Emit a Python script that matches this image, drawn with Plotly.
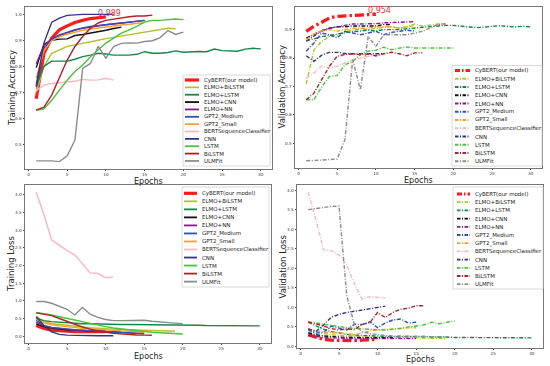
import plotly.graph_objects as go

W, H = 550, 366

model_names = ["CyBERT(our model)", "ELMO+BiLSTM", "ELMO+LSTM", "ELMO+CNN", "ELMO+NN",
               "GPT2_Medium", "GPT2_Small", "BERTSequenceClassifier", "CNN", "LSTM",
               "BiLSTM", "ULMFit"]
model_colors = ["#ff1a1a", "#b5c22a", "#13884a", "#111111", "#8a1a8a",
                "#2f4fc0", "#ff9f2a", "#ffb6c1", "#33338a", "#45c53a",
                "#b3202a", "#8c8c8c"]

# ---- Training accuracy ----
ta_cybert = [0.676, 0.85, 0.908, 0.94, 0.955, 0.968, 0.976, 0.983, 0.986, 0.989]
ta_elmo_bilstm = [0.70, 0.80, 0.85, 0.863, 0.876, 0.882, 0.889, 0.895, 0.90, 0.906, 0.911, 0.916, 0.922, 0.926, 0.931, 0.935, 0.942, 0.946, 0.944]
ta_elmo_lstm = [0.725, 0.80, 0.82, 0.82, 0.82, 0.827, 0.837, 0.843, 0.85, 0.847, 0.843, 0.843, 0.843, 0.846, 0.856, 0.85, 0.85, 0.853, 0.859, 0.854, 0.856, 0.857, 0.856, 0.866, 0.86, 0.858, 0.858, 0.866, 0.869, 0.867]
ta_elmo_cnn = [0.795, 0.885, 0.90, 0.904, 0.905, 0.918, 0.922, 0.927, 0.933, 0.938, 0.945, 0.95]
ta_elmo_nn = [0.81, 0.88, 0.905, 0.92, 0.93, 0.94, 0.946, 0.951, 0.955, 0.959, 0.962, 0.965, 0.968, 0.972, 0.976]
ta_gpt2_medium = [0.72, 0.87, 0.903, 0.918, 0.928, 0.938, 0.947, 0.953, 0.957, 0.96, 0.963, 0.966, 0.969, 0.973, 0.976]
ta_gpt2_small = [0.755, 0.86, 0.898, 0.913, 0.923, 0.932, 0.938, 0.943, 0.947, 0.952, 0.955, 0.958, 0.961, 0.964, 0.968]
ta_bert = [0.708, 0.728, 0.734, 0.737, 0.741, 0.743, 0.75, 0.747, 0.748, 0.754, 0.747]
ta_cnn = [0.728, 0.89, 0.969, 0.985, 0.995, 0.998, 0.999, 0.999, 0.999, 0.999, 0.999]
ta_lstm = [0.632, 0.637, 0.67, 0.71, 0.747, 0.78, 0.805, 0.837, 0.863, 0.889, 0.908, 0.927, 0.94, 0.953, 0.97, 0.976, 0.976, 0.979, 0.981, 0.979]
ta_bilstm = [0.632, 0.644, 0.69, 0.76, 0.824, 0.876, 0.914, 0.946, 0.966, 0.976, 0.981, 0.985, 0.99, 0.993, 0.993, 0.996]
ta_ulmfit = [0.438, 0.438, 0.438, 0.435, 0.457, 0.518, 0.792, 0.811, 0.876, 0.831, 0.876, 0.888, 0.89, 0.889, 0.895, 0.898, 0.91, 0.937, 0.922, 0.931]

# ---- Validation accuracy ----
va_cybert = [0.894, 0.912, 0.926, 0.941, 0.947, 0.949, 0.951, 0.952, 0.953, 0.954]
va_elmo_bilstm = [0.709, 0.829, 0.859, 0.875, 0.88, 0.893, 0.898, 0.903, 0.90, 0.905, 0.908, 0.91, 0.905, 0.91, 0.92, 0.912, 0.916, 0.92, 0.92]
va_elmo_lstm = [0.86, 0.868, 0.875, 0.88, 0.885, 0.89, 0.893, 0.895, 0.898, 0.895, 0.9, 0.9, 0.9, 0.903, 0.906, 0.908, 0.91, 0.913, 0.915, 0.915, 0.912, 0.91, 0.907, 0.909, 0.911, 0.914, 0.911, 0.91, 0.912, 0.91]
va_elmo_cnn = [0.87, 0.882, 0.896, 0.905, 0.91, 0.91, 0.913, 0.913, 0.913, 0.913, 0.918, 0.918]
va_elmo_nn = [0.86, 0.876, 0.895, 0.905, 0.91, 0.914, 0.92, 0.92, 0.92, 0.921, 0.924, 0.925, 0.925, 0.927, 0.928]
va_gpt2_medium = [0.824, 0.853, 0.888, 0.882, 0.871, 0.894, 0.888, 0.882, 0.888, 0.894, 0.882, 0.89, 0.894, 0.898, 0.895]
va_gpt2_small = [0.865, 0.885, 0.895, 0.9, 0.895, 0.9, 0.905, 0.905, 0.905, 0.91, 0.91, 0.91, 0.905, 0.91, 0.915]
va_bert = [0.729, 0.747, 0.771, 0.765, 0.771, 0.782, 0.794, 0.8, 0.806, 0.806, 0.812]
va_cnn = [0.808, 0.788, 0.81, 0.82, 0.82, 0.816, 0.815, 0.815, 0.815, 0.815, 0.815]
va_lstm = [0.653, 0.653, 0.698, 0.735, 0.738, 0.776, 0.788, 0.812, 0.824, 0.827, 0.838, 0.829, 0.835, 0.839, 0.835, 0.835, 0.837, 0.835, 0.835, 0.835]
va_bilstm = [0.653, 0.676, 0.724, 0.771, 0.806, 0.812, 0.814, 0.812, 0.814, 0.808, 0.815, 0.82, 0.815, 0.808, 0.818, 0.818]
va_ulmfit = [0.438, 0.438, 0.44, 0.442, 0.444, 0.512, 0.794, 0.688, 0.876, 0.841, 0.882, 0.882, 0.882, 0.882, 0.888, 0.894, 0.906, 0.918, 0.921]

# ---- Training loss ----
tl_cybert = [0.3, 0.22, 0.17, 0.15, 0.14, 0.13, 0.13, 0.13, 0.13, 0.13]
tl_elmo_bilstm = [0.56, 0.42, 0.36, 0.33, 0.3, 0.28, 0.26, 0.24, 0.22, 0.21, 0.2, 0.19, 0.18, 0.17, 0.16, 0.155, 0.15, 0.145, 0.14]
tl_elmo_lstm = [0.5, 0.44, 0.41, 0.39, 0.37, 0.36, 0.35, 0.35, 0.34, 0.34, 0.34, 0.33, 0.33, 0.33, 0.32, 0.32, 0.32, 0.32, 0.31, 0.31, 0.31, 0.31, 0.3, 0.3, 0.3, 0.3, 0.3, 0.29, 0.29, 0.29]
tl_elmo_cnn = [0.35, 0.27, 0.23, 0.2, 0.18, 0.17, 0.16, 0.15, 0.14, 0.13, 0.12, 0.11]
tl_elmo_nn = [0.4, 0.3, 0.24, 0.21, 0.19, 0.17, 0.16, 0.15, 0.13, 0.12, 0.11, 0.1, 0.09, 0.08, 0.07]
tl_gpt2_medium = [0.45, 0.3, 0.25, 0.22, 0.2, 0.18, 0.17, 0.15, 0.14, 0.13, 0.12, 0.11, 0.1, 0.09, 0.08]
tl_gpt2_small = [0.48, 0.38, 0.32, 0.29, 0.26, 0.24, 0.22, 0.21, 0.19, 0.18, 0.16, 0.15, 0.14, 0.12, 0.11]
tl_bert = [4.07, 3.44, 2.72, 2.56, 2.42, 2.3, 2.05, 1.79, 1.77, 1.65, 1.67]
tl_cnn = [0.55, 0.3, 0.12, 0.05, 0.03, 0.02, 0.015, 0.01, 0.01, 0.01, 0.01]
tl_lstm = [0.67, 0.64, 0.6, 0.55, 0.5, 0.45, 0.4, 0.35, 0.31, 0.27, 0.23, 0.2, 0.17, 0.15, 0.13, 0.11, 0.1, 0.08, 0.07, 0.06]
tl_bilstm = [0.66, 0.63, 0.58, 0.5, 0.42, 0.33, 0.26, 0.2, 0.15, 0.11, 0.08, 0.06, 0.045, 0.035, 0.03, 0.025]
tl_ulmfit = [0.98, 0.98, 0.93, 0.84, 0.76, 0.6, 0.81, 0.62, 0.53, 0.47, 0.44, 0.44, 0.45, 0.45, 0.45, 0.42, 0.41, 0.39, 0.37, 0.35]

# ---- Validation loss ----
vl_cybert = [0.3, 0.23, 0.18, 0.16, 0.15, 0.15, 0.15, 0.16, 0.17, 0.18]
vl_elmo_bilstm = [0.45, 0.38, 0.33, 0.3, 0.28, 0.27, 0.26, 0.25, 0.24, 0.24, 0.23, 0.23, 0.22, 0.22, 0.22, 0.21, 0.21, 0.21, 0.2]
vl_elmo_lstm = [0.62, 0.52, 0.44, 0.38, 0.34, 0.31, 0.29, 0.28, 0.27, 0.26, 0.26, 0.25, 0.25, 0.25, 0.24, 0.24, 0.24, 0.24, 0.24, 0.23, 0.23, 0.23, 0.23, 0.23, 0.23, 0.23, 0.23, 0.22, 0.22, 0.22]
vl_elmo_cnn = [0.35, 0.3, 0.27, 0.25, 0.24, 0.23, 0.23, 0.22, 0.22, 0.22, 0.22, 0.22]
vl_elmo_nn = [0.28, 0.25, 0.23, 0.22, 0.21, 0.21, 0.2, 0.2, 0.2, 0.2, 0.2, 0.2, 0.2, 0.2, 0.2]
vl_gpt2_medium = [0.42, 0.34, 0.36, 0.52, 0.47, 0.42, 0.57, 0.56, 0.63, 0.48, 0.6, 0.68, 0.7, 0.6, 0.62]
vl_gpt2_small = [0.45, 0.4, 0.37, 0.35, 0.35, 0.32, 0.3, 0.35, 0.4, 0.42, 0.43, 0.45, 0.47, 0.48, 0.48]
vl_bert = [3.94, 3.25, 2.47, 2.45, 2.34, 2.08, 1.6, 1.21, 1.27, 1.26, 1.24]
vl_cnn = [0.45, 0.38, 0.55, 0.75, 0.82, 0.87, 0.9, 0.93, 0.97, 1.01, 1.03]
vl_lstm = [0.63, 0.6, 0.57, 0.53, 0.5, 0.48, 0.46, 0.45, 0.44, 0.43, 0.42, 0.44, 0.46, 0.5, 0.52, 0.55, 0.62, 0.58, 0.62, 0.65]
vl_bilstm = [0.62, 0.58, 0.52, 0.46, 0.42, 0.45, 0.43, 0.56, 0.61, 0.87, 0.74, 0.87, 0.95, 0.98, 1.04, 1.04]
vl_ulmfit = [3.5, 3.53, 3.56, 3.58, 3.59, 1.3, 0.55, 0.38, 0.33, 0.3, 0.28, 0.27, 0.27, 0.27, 0.26, 0.26, 0.25, 0.25, 0.24]

x_ticks = [0, 5, 10, 15, 20, 25, 30]
x_title = "Epochs"
best_train_acc_label = "0.989"
best_val_acc_label = "0.954"

panels = [
    dict(series=[ta_cybert, ta_elmo_bilstm, ta_elmo_lstm, ta_elmo_cnn, ta_elmo_nn, ta_gpt2_medium,
                 ta_gpt2_small, ta_bert, ta_cnn, ta_lstm, ta_bilstm, ta_ulmfit],
         title="Training Accuracy", dtick=0.1, dash=False,
         box=(25, 272, 7, 169), ytitle_x=12, xtitle_y=181.5,
         leg=(183, 270, 75, 166, 80, 7.36, 185, 199, 201.5)),
    dict(series=[va_cybert, va_elmo_bilstm, va_elmo_lstm, va_elmo_cnn, va_elmo_nn, va_gpt2_medium,
                 va_gpt2_small, va_bert, va_cnn, va_lstm, va_bilstm, va_ulmfit],
         title="Validation Accuracy", dtick=0.1, dash=True,
         box=(295, 542, 7, 168), ytitle_x=281, xtitle_y=180.5,
         leg=(452, 542, 65.5, 166, 70.5, 8.25, 455, 470, 473)),
    dict(series=[tl_cybert, tl_elmo_bilstm, tl_elmo_lstm, tl_elmo_cnn, tl_elmo_nn, tl_gpt2_medium,
                 tl_gpt2_small, tl_bert, tl_cnn, tl_lstm, tl_bilstm, tl_ulmfit],
         title="Training Loss", dtick=0.5, dash=False,
         box=(25, 271, 185, 343), ytitle_x=11, xtitle_y=356.5,
         leg=(182, 269, 187, 287, 193.3, 8.03, 184, 197, 200)),
    dict(series=[vl_cybert, vl_elmo_bilstm, vl_elmo_lstm, vl_elmo_cnn, vl_elmo_nn, vl_gpt2_medium,
                 vl_gpt2_small, vl_bert, vl_cnn, vl_lstm, vl_bilstm, vl_ulmfit],
         title="Validation Loss", dtick=0.5, dash=True,
         box=(297, 543, 185, 348), ytitle_x=282, xtitle_y=359.5,
         leg=(453, 543, 187, 289, 194, 8.2, 457, 470, 472.5)),
]

FONT = "DejaVu Sans"
fig = go.Figure()
shapes = []
annotations = []

def px(x):
    return x / W

def py(y):
    return 1 - y / H

for i, p in enumerate(panels):
    k = "" if i == 0 else str(i + 1)
    xa, ya = "x" + k, "y" + k
    allv = [v for s in p["series"] for v in s]
    lo, hi = min(allv), max(allv)
    span = hi - lo
    for j, s in enumerate(p["series"]):
        thick = j == 0
        if p["dash"]:
            dash = "9px,3px,2.5px,3px" if thick else "4px,1.6px,1px,1.6px"
        else:
            dash = "solid"
        fig.add_trace(go.Scatter(
            x=list(range(1, len(s) + 1)), y=s, mode="lines",
            line=dict(color=model_colors[j], width=3.2 if thick else 1.4, dash=dash),
            name=model_names[j], showlegend=False, xaxis=xa, yaxis=ya))
    l, r, t, b = p["box"]
    fig.layout["xaxis" + k] = dict(
        domain=[px(l), px(r)], anchor=ya, range=[-0.45, 31.45],
        tickvals=x_ticks, ticks="outside", ticklen=1.5, tickwidth=0.6, tickcolor="#444",
        tickfont=dict(size=4.2, color="#333", family=FONT),
        showline=True, mirror=True, linecolor="#777", linewidth=0.9,
        showgrid=False, zeroline=False)
    fig.layout["yaxis" + k] = dict(
        domain=[py(b), py(t)], anchor=xa, range=[lo - 0.05 * span, hi + 0.05 * span],
        dtick=p["dtick"], tickformat=".1f", ticks="outside", ticklen=1.5, tickwidth=0.6,
        tickcolor="#444", tickfont=dict(size=4.2, color="#333", family=FONT),
        showline=True, mirror=True, linecolor="#777", linewidth=0.9,
        showgrid=False, zeroline=False)

    # axis titles
    annotations.append(dict(text=x_title, xref="paper", yref="paper",
                            x=px((l + r) / 2), y=py(p["xtitle_y"]),
                            xanchor="center", yanchor="middle", showarrow=False, borderpad=0,
                            font=dict(size=8, color="#222", family=FONT)))
    annotations.append(dict(text=p["title"], xref="paper", yref="paper",
                            x=px(p["ytitle_x"]), y=py((t + b) / 2), textangle=-90,
                            xanchor="center", yanchor="middle", showarrow=False, borderpad=0,
                            font=dict(size=8.5, color="#222", family=FONT)))

    # legend (drawn as decoration)
    bl, br, bt, bb, y0, dy, hx0, hx1, tx = p["leg"]
    shapes.append(dict(type="rect", xref="paper", yref="paper",
                       x0=px(bl), x1=px(br), y0=py(bb), y1=py(bt),
                       line=dict(color="#d0d0d0", width=0.8), fillcolor="rgba(255,255,255,0.85)",
                       layer="above"))
    for j, name in enumerate(model_names):
        yy = y0 + j * dy
        if p["dash"]:
            hd = "5px,2px,1.5px,2px" if j == 0 else "3.5px,1.5px,1px,1.5px"
        else:
            hd = "solid"
        shapes.append(dict(type="line", xref="paper", yref="paper",
                           x0=px(hx0), x1=px(hx1), y0=py(yy), y1=py(yy),
                           line=dict(color=model_colors[j], width=3.2 if j == 0 else 1.8, dash=hd),
                           layer="above"))
        annotations.append(dict(text=name, xref="paper", yref="paper", x=px(tx), y=py(yy),
                                xanchor="left", yanchor="middle", showarrow=False,
                                font=dict(size=5.5, color="#222", family=FONT)))

annotations.append(dict(text=best_train_acc_label, xref="x", yref="y", x=9, y=0.989,
                        xanchor="left", yanchor="bottom", showarrow=False, yshift=-3, xshift=-2,
                        font=dict(size=8, color="#ff3030", family=FONT)))
annotations.append(dict(text=best_val_acc_label, xref="x2", yref="y2", x=9, y=0.954,
                        xanchor="left", yanchor="bottom", showarrow=False, yshift=-3, xshift=-2,
                        font=dict(size=8, color="#ff3030", family=FONT)))

fig.update_layout(width=W, height=H, margin=dict(l=0, r=0, t=0, b=0),
                  paper_bgcolor="white", plot_bgcolor="white",
                  font=dict(family=FONT), shapes=shapes, annotations=annotations)

fig.write_html("out.html", config={"displayModeBar": False},
               post_script="document.body.style.margin='0';document.body.style.overflow='hidden';")
